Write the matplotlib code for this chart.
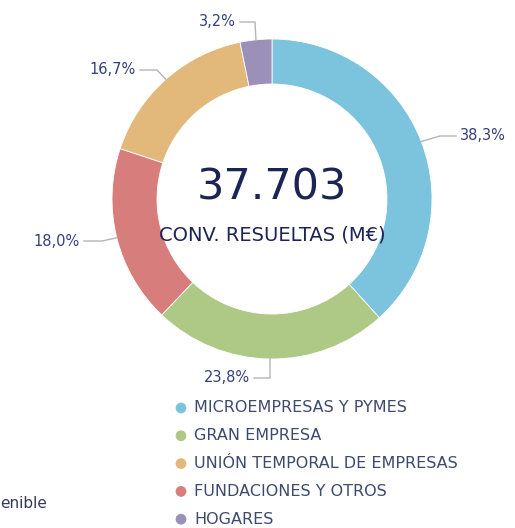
import numpy as np
import matplotlib
matplotlib.use("Agg")
import matplotlib.pyplot as plt

# pie order (clockwise from 12 o'clock)
segments = ["MICROEMPRESAS Y PYMES", "GRAN EMPRESA", "FUNDACIONES Y OTROS",
            "UNIÓN TEMPORAL DE EMPRESAS", "HOGARES"]
shares = [38.3, 23.8, 18.0, 16.7, 3.2]
share_labels = ["38,3%", "23,8%", "18,0%", "16,7%", "3,2%"]

legend_order = ["MICROEMPRESAS Y PYMES", "GRAN EMPRESA", "UNIÓN TEMPORAL DE EMPRESAS",
                "FUNDACIONES Y OTROS", "HOGARES"]
total_text = "37.703"
total_caption = "CONV. RESUELTAS (M€)"

colors = {
    "MICROEMPRESAS Y PYMES": "#7cc3dd",
    "GRAN EMPRESA": "#aec986",
    "UNIÓN TEMPORAL DE EMPRESAS": "#e2b97b",
    "FUNDACIONES Y OTROS": "#d77d7c",
    "HOGARES": "#9a90b8",
}
navy = "#1b2454"
label_col = "#35407a"
W, H = 515, 528

fig = plt.figure(figsize=(W / 100, H / 100), dpi=100)
ax = fig.add_axes([0, 0, 1, 1])

cx, cy, R = 272, H - 199, 160
wedges, _ = ax.pie(shares, colors=[colors[s] for s in segments], startangle=90,
                   counterclock=False, center=(cx, cy), radius=R,
                   wedgeprops=dict(width=45, edgecolor="white", linewidth=0.6),
                   frame=True)
ax.set_xlim(0, W)
ax.set_ylim(0, H)
ax.set_aspect("equal")
ax.axis("off")

# leader line bends and label ends
label_layout = [
    [(440, H - 136), (456, H - 136)],
    [(270, H - 378), (254, H - 378)],
    [(102, H - 241), (84, H - 241)],
    [(157, H - 70), (140, H - 70)],
    [(255, H - 22), (240, H - 22)],
]
for w, txt, pts in zip(wedges, share_labels, label_layout):
    ang = np.deg2rad((w.theta1 + w.theta2) / 2)
    ax0, ay0 = cx + R * np.cos(ang), cy + R * np.sin(ang)
    xs = [ax0] + [p[0] for p in pts]
    ys = [ay0] + [p[1] for p in pts]
    ax.plot(xs, ys, color="#b5b5b5", lw=1)
    ex, ey = pts[-1]
    ha = "left" if ex > cx else "right"
    ax.text(ex + (4 if ha == "left" else -4), ey, txt, ha=ha, va="center",
            fontsize=10.5, color=label_col)

ax.text(cx, H - 187, total_text, ha="center", va="center", fontsize=31, color=navy)
ax.text(cx, H - 235, total_caption, ha="center", va="center", fontsize=14, color=navy)

for i, name in enumerate(legend_order):
    y = H - 408 - i * 27.8
    ax.scatter([181], [y], s=60, color=colors[name], edgecolors="none")
    ax.text(194, y, name, ha="left", va="center", fontsize=11.5, color="#3d4a70")

ax.text(0, H - 503, "enible", ha="left", va="center", fontsize=11, color="#333a5c")

fig.savefig("out.png", dpi=100)
